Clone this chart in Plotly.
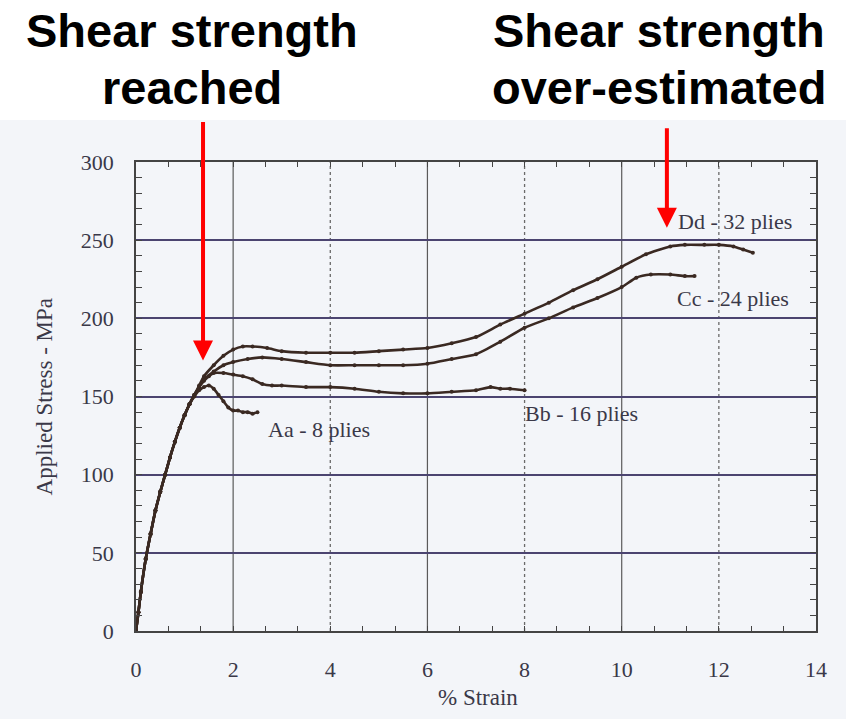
import plotly.graph_objects as go

# ---- data ----
aa_strain = [0, 0.05, 0.1, 0.2, 0.3, 0.4, 0.5, 0.6, 0.7, 0.8, 0.9, 1.0, 1.1, 1.2, 1.3, 1.4, 1.5,
             1.6, 1.7, 1.8, 1.9, 2.0, 2.1, 2.2, 2.3, 2.4, 2.5]
aa_stress = [0, 12, 25, 46, 62, 77, 89, 100, 111, 121, 130, 138, 145, 150, 154, 156, 157,
             155, 151, 147, 143, 141, 141, 140, 140, 139, 140]

bb_strain = [0, 0.05, 0.1, 0.2, 0.3, 0.4, 0.5, 0.6, 0.7, 0.8, 0.9, 1.0, 1.1, 1.2, 1.3, 1.4, 1.5,
             1.6, 1.8, 2.0, 2.2, 2.4, 2.6, 2.8, 3.0, 3.5, 4.0, 4.5, 5.0, 5.5, 6.0, 6.5, 7.0,
             7.3, 7.5, 7.7, 8.0]
bb_stress = [0, 12, 25, 46, 62, 77, 89, 100, 111, 121, 130, 138, 145, 151, 156, 160, 163,
             165, 165, 164, 163, 161, 158, 157, 157, 156, 156, 155, 153, 152, 152, 153, 154,
             156, 155, 155, 154]

cc_strain = [0, 0.05, 0.1, 0.2, 0.3, 0.4, 0.5, 0.6, 0.7, 0.8, 0.9, 1.0, 1.1, 1.2, 1.3, 1.4, 1.6,
             1.8, 2.0, 2.3, 2.6, 3.0, 3.5, 4.0, 4.5, 5.0, 5.5, 6.0, 6.5, 7.0, 7.5, 8.0, 8.5,
             9.0, 9.5, 10.0, 10.3, 10.6, 11.0, 11.3, 11.5]
cc_stress = [0, 12, 25, 46, 62, 77, 89, 100, 111, 121, 130, 138, 145, 151, 156, 161, 166,
             170, 172, 174, 175, 174, 172, 170, 170, 170, 170, 171, 174, 177, 185, 194, 200,
             207, 213, 220, 226, 228, 228, 227, 227]

dd_strain = [0, 0.05, 0.1, 0.2, 0.3, 0.4, 0.5, 0.6, 0.7, 0.8, 0.9, 1.0, 1.1, 1.2, 1.3, 1.4, 1.6,
             1.8, 2.0, 2.2, 2.4, 2.7, 3.0, 3.5, 4.0, 4.5, 5.0, 5.5, 6.0, 6.5, 7.0, 7.5, 8.0,
             8.5, 9.0, 9.5, 10.0, 10.5, 11.0, 11.3, 11.7, 12.0, 12.3, 12.5, 12.7]
dd_stress = [0, 12, 25, 46, 62, 77, 89, 100, 111, 121, 130, 138, 145, 151, 157, 163, 170,
             176, 180, 182, 182, 181, 179, 178, 178, 178, 179, 180, 181, 184, 188, 196, 203,
             210, 218, 225, 233, 241, 246, 247, 247, 247, 246, 244, 242]

series_names = ["Aa - 8 plies", "Bb - 16 plies", "Cc - 24 plies", "Dd - 32 plies"]
x_ticks = [0, 2, 4, 6, 8, 10, 12, 14]
y_ticks = [0, 50, 100, 150, 200, 250, 300]
solid_vgrid = [2, 6, 10]
dotted_vgrid = [4, 8, 12]

curve_color = "#3a2922"
text_color = "#3a3848"
serif = "Liberation Serif, Times New Roman, serif"
sans = "Liberation Sans, Arial, sans-serif"

fig = go.Figure()
for name, xs, ys in zip(series_names,
                        [aa_strain, bb_strain, cc_strain, dd_strain],
                        [aa_stress, bb_stress, cc_stress, dd_stress]):
    fig.add_trace(go.Scatter(
        x=xs, y=ys, mode="lines+markers", name=name,
        line=dict(color=curve_color, width=2.6, shape="spline", smoothing=0.6),
        marker=dict(color=curve_color, size=4),
        showlegend=False,
    ))

shapes = []
# scanned-page background
shapes.append(dict(type="rect", xref="paper", yref="paper",
                   x0=-0.21, x1=1.06, y0=-0.2, y1=1.0896,
                   fillcolor="#f3f5f9", line=dict(width=0), layer="below"))
for gx in solid_vgrid:
    shapes.append(dict(type="line", xref="x", yref="paper", x0=gx, x1=gx, y0=0, y1=1,
                       line=dict(color="#5a5a5a", width=1.2), layer="below"))
for gx in dotted_vgrid:
    shapes.append(dict(type="line", xref="x", yref="paper", x0=gx, x1=gx, y0=0, y1=1,
                       line=dict(color="#6a6a6a", width=1.3, dash="dot"), layer="below"))

annotations = []
# series labels
label_pos = {"Aa - 8 plies": (3.76, 129), "Bb - 16 plies": (9.17, 139),
             "Cc - 24 plies": (12.29, 213), "Dd - 32 plies": (12.33, 262)}
for name, (lx, ly) in label_pos.items():
    annotations.append(dict(x=lx, y=ly, xref="x", yref="y", text=name, showarrow=False,
                            xanchor="center", yanchor="middle",
                            font=dict(family=serif, size=22, color=text_color)))

# headline texts
def headline(text, xp, ypix):
    return dict(x=xp, y=1 + (162 - ypix) / 469, xref="paper", yref="paper", text=text,
                showarrow=False, xanchor="center", yanchor="middle",
                font=dict(family=sans, size=47, color="#000000", weight="bold"))

annotations.append(headline("Shear strength", 0.082, 31))
annotations.append(headline("reached", 0.082, 87))
annotations.append(headline("Shear strength", 0.769, 31))
annotations.append(headline("over-estimated", 0.769, 87))

# red arrows
annotations.append(dict(x=1.38, y=173, xref="x", yref="y", ax=0, ay=-240, showarrow=True,
                        arrowcolor="#ff0000", arrowwidth=4, arrowhead=2, arrowsize=1, text=""))
annotations.append(dict(x=10.93, y=258, xref="x", yref="y", ax=0, ay=-101, showarrow=True,
                        arrowcolor="#ff0000", arrowwidth=4, arrowhead=2, arrowsize=1, text=""))

# axis titles
annotations.append(dict(x=-0.134, y=0.5, xref="paper", yref="paper", text="Applied Stress - MPa",
                        textangle=-90, showarrow=False, xanchor="center", yanchor="middle",
                        font=dict(family=serif, size=23, color=text_color)))
annotations.append(dict(x=0.503, y=-0.141, xref="paper", yref="paper", text="% Strain",
                        showarrow=False, xanchor="center", yanchor="middle",
                        font=dict(family=serif, size=23, color=text_color)))

fig.update_layout(
    width=846, height=719,
    margin=dict(l=136, r=30, t=162, b=88),
    paper_bgcolor="#ffffff",
    plot_bgcolor="#fbfcfd",
    shapes=shapes,
    annotations=annotations,
)
fig.update_xaxes(
    range=[0, 14], tickvals=x_ticks, ticktext=[str(v) for v in x_ticks],
    showgrid=False, zeroline=False,
    showline=True, linecolor="#444444", linewidth=1.5, mirror="allticks",
    ticks="inside", ticklen=0, tickcolor="#444444", ticklabelstandoff=18,
    minor=dict(dtick=2 / 3, tick0=0, ticks="inside", ticklen=5, tickcolor="#444444", showgrid=False),
    tickfont=dict(family=serif, size=22, color=text_color),
)
fig.update_yaxes(
    range=[0, 300], tickvals=y_ticks, ticktext=[str(v) for v in y_ticks],
    showgrid=True, gridcolor="#4b4470", gridwidth=1.5, zeroline=False,
    showline=True, linecolor="#444444", linewidth=1.5, mirror="allticks",
    ticks="inside", ticklen=6, tickcolor="#444444", ticklabelstandoff=16,
    minor=dict(dtick=10, ticks="inside", ticklen=6, tickcolor="#444444", showgrid=False),
    tickfont=dict(family=serif, size=22, color=text_color),
)

fig.write_html("out.html")
